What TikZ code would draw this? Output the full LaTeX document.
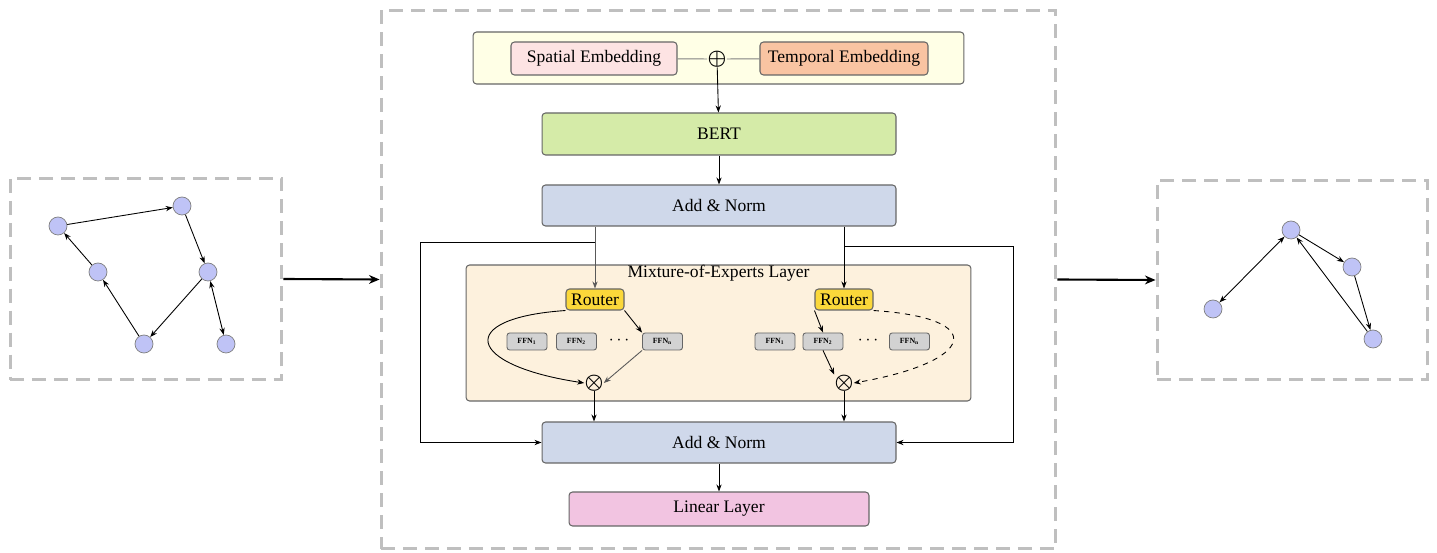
\documentclass[tikz,border=0pt]{standalone}
\usepackage{fontspec}
\setmainfont{Liberation Serif}
\usetikzlibrary{arrows.meta}
\definecolor{embfill}{HTML}{FFFFE6}
\definecolor{spatialfill}{HTML}{FDE3E3}
\definecolor{temporalfill}{HTML}{F9C4A2}
\definecolor{bertfill}{HTML}{D5EBA8}
\definecolor{normfill}{HTML}{CFD8EA}
\definecolor{moefill}{HTML}{FDF1DD}
\definecolor{routerfill}{HTML}{FBD83A}
\definecolor{linearfill}{HTML}{F2C4E1}
\definecolor{graphfill}{HTML}{BFC3F6}
\begin{document}
\begin{tikzpicture}[x=0.02cm,y=-0.02cm,
	block_node/.style={rectangle,rounded corners=2pt,draw=gray!80!black,line width=0.6pt,inner sep=0pt,font=\normalsize},
	ffn_node/.style={rectangle,rounded corners=1.5pt,draw=gray!80!black,fill=gray!35,line width=0.5pt,minimum width=0.8cm,minimum height=0.34cm,inner sep=0pt,font=\fontsize{4.5}{5}\selectfont\bfseries},
	graph_node/.style={circle,fill=graphfill,draw=gray,minimum size=0.36cm,inner sep=0pt},
	frame_node/.style={rectangle,draw=gray!50,line width=1.7pt,dash pattern=on 8pt off 4.5pt,inner sep=0pt},
	arrow/.style={-{Stealth[length=4pt,width=3pt]},line width=0.5pt},
	double_arrow/.style={{Stealth[length=4pt,width=3pt]}-{Stealth[length=4pt,width=3pt]},line width=0.5pt},
	big_arrow/.style={-{Stealth[length=6pt,width=5pt]},line width=1.2pt},
	op_node/.style={inner sep=0pt,font=\large\boldmath}]
	\useasboundingbox (0,0) rectangle (1437,553);
	
	% frames
	\node[frame_node,minimum width=5.44cm,minimum height=4.04cm] (left_box) at (146,279) {};
	\node[frame_node,minimum width=13.5cm,minimum height=10.78cm] (center_box) at (718.5,279.5) {};
	\node[frame_node,minimum width=5.42cm,minimum height=4.0cm] (right_box) at (1292.5,280) {};
	\draw[big_arrow] (left_box.east) -- (center_box.west);
	\draw[big_arrow] (center_box.east) -- (right_box.west);
	
	% embedding
	\node[block_node,fill=embfill,minimum width=9.82cm,minimum height=1.04cm] (emb) at (718.5,58) {};
	\node[block_node,fill=spatialfill,minimum width=3.32cm,minimum height=0.66cm] (spatial) at (594,58.5) {Spatial Embedding};
	\node[block_node,fill=temporalfill,minimum width=3.36cm,minimum height=0.66cm] (temporal) at (844,58.5) {Temporal Embedding};
	\node[op_node] (plus) at (717,59) {$\oplus$};
	\draw[gray,line width=0.5pt] (spatial) -- (plus);
	\draw[gray,line width=0.5pt] (plus) -- (temporal);
	
	\node[block_node,fill=bertfill,minimum width=7.08cm,minimum height=0.84cm] (bert) at (719,134) {BERT};
	\node[block_node,fill=normfill,minimum width=7.08cm,minimum height=0.82cm] (norm1) at (719,205.5) {Add \& Norm};
	\draw[arrow] (plus) -- (bert);
	\draw[arrow] (bert) -- (norm1);
	
	% mixture of experts
	\node[block_node,fill=moefill,minimum width=10.1cm,minimum height=2.72cm] (moe) at (718.5,333) {};
	\node (moe_title) at (718.5,273.5) {Mixture-of-Experts Layer};
	\node[block_node,fill=routerfill,minimum width=1.16cm,minimum height=0.42cm] (router_l) at (595,299.5) {Router};
	\node[block_node,fill=routerfill,minimum width=1.16cm,minimum height=0.42cm] (router_r) at (844,299.5) {Router};
	
	\node[ffn_node] (ffn_l1) at (527,341.5) {FFN\textsubscript{1}};
	\node[ffn_node] (ffn_l2) at (576.5,341.5) {FFN\textsubscript{2}};
	\node (dots_l) at (619,341) {$\cdots$};
	\node[ffn_node] (ffn_ln) at (662.5,341.5) {FFN\textsubscript{n}};
	\node[ffn_node] (ffn_r1) at (775,341.5) {FFN\textsubscript{1}};
	\node[ffn_node] (ffn_r2) at (823,341.5) {FFN\textsubscript{2}};
	\node (dots_r) at (868,341) {$\cdots$};
	\node[ffn_node] (ffn_rn) at (909.5,341.5) {FFN\textsubscript{n}};
	
	\node[op_node] (times_l) at (594,383) {$\otimes$};
	\node[op_node] (times_r) at (844,383) {$\otimes$};
	
	\node[block_node,fill=normfill,minimum width=7.08cm,minimum height=0.82cm] (norm2) at (719,442.5) {Add \& Norm};
	\node[block_node,fill=linearfill,minimum width=6cm,minimum height=0.68cm] (linear) at (719,509) {Linear Layer};
	
	\draw[arrow,gray!70!black] (norm1.south -| router_l) -- (router_l);
	\draw[arrow] (norm1.south -| router_r) -- (router_r);
	\draw[arrow] (router_l.south west) .. controls (455,318) and (465,365) .. (times_l.west);
	\draw[arrow] (router_l.south east) -- (ffn_ln.north west);
	\draw[arrow,gray!70!black] (ffn_ln.south west) -- (times_l.east);
	\draw[arrow] (router_r.south west) -- (ffn_r2.north);
	\draw[arrow] (ffn_r2.south) -- (times_r.north west);
	\draw[arrow,dashed] (router_r.south east) .. controls (990,318) and (975,362) .. (times_r.east);
	\draw[arrow] (times_l) -- (times_l |- norm2.north);
	\draw[arrow] (times_r) -- (times_r |- norm2.north);
	
	% residual paths
	\coordinate (res_l) at (595,242);
	\coordinate (res_r) at (845,246);
	\draw[arrow] (res_l) -- (420,242) |- (norm2.west);
	\draw[arrow] (res_r) -- (1013,246) |- (norm2.east);
	\draw[arrow] (norm2) -- (linear);
	
	% input graph
	\node[graph_node] (a) at (58,226) {};
	\node[graph_node] (b) at (182,206) {};
	\node[graph_node] (c) at (98,272) {};
	\node[graph_node] (d) at (208,272) {};
	\node[graph_node] (e) at (144,344) {};
	\node[graph_node] (f) at (226,344) {};
	\draw[arrow] (a) -- (b);
	\draw[arrow] (b) -- (d);
	\draw[arrow] (d) -- (e);
	\draw[arrow] (e) -- (c);
	\draw[arrow] (c) -- (a);
	\draw[double_arrow] (d) -- (f);
	
	% output graph
	\node[graph_node] (p) at (1291,230) {};
	\node[graph_node] (q) at (1213,309) {};
	\node[graph_node] (r) at (1352,267) {};
	\node[graph_node] (s) at (1373,339) {};
	\draw[double_arrow] (p) -- (q);
	\draw[arrow] (p) -- (r);
	\draw[arrow] (r) -- (s);
	\draw[arrow] (s) -- (p);
\end{tikzpicture}
\end{document}
